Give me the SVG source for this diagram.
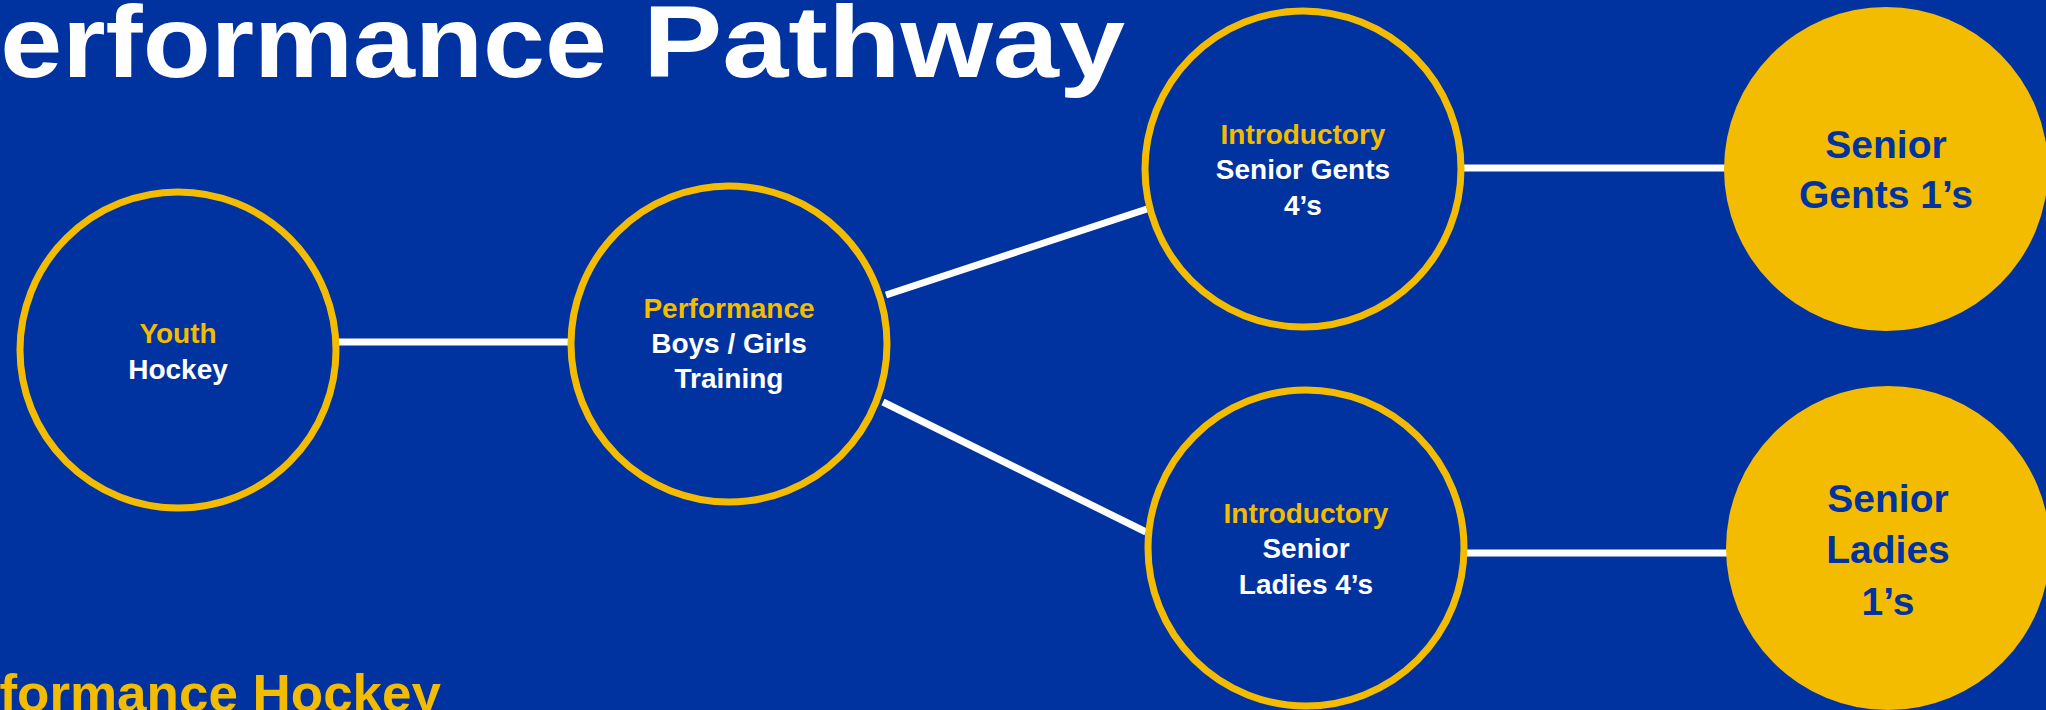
<svg xmlns="http://www.w3.org/2000/svg" width="2046" height="710" viewBox="0 0 2046 710">
<style>
.ring{fill:#0033a0;stroke:#f4bc00;stroke-width:7}
.solid{fill:#f4bc00}
.conn{stroke:#ffffff;stroke-width:7;fill:none}
.t{font-family:"Liberation Sans",Arial,sans-serif;font-weight:bold;text-anchor:middle}
.s{font-size:28px}
.b{font-size:39px;fill:#0033a0}
.y{fill:#f4bc00}
.w{fill:#ffffff}
</style>
<rect width="2046" height="710" fill="#0033a0"/>
<text font-family="'Liberation Sans',Arial,sans-serif" font-weight="bold" font-size="102" fill="#ffffff"><tspan x="-74" y="77" textLength="681" lengthAdjust="spacingAndGlyphs">Performance</tspan><tspan x="643" y="77" textLength="482" lengthAdjust="spacingAndGlyphs">Pathway</tspan></text>
<text x="-86" y="711" textLength="527" lengthAdjust="spacingAndGlyphs" font-family="'Liberation Sans',Arial,sans-serif" font-weight="bold" font-size="52" fill="#f4bc00">Performance Hockey</text>
<g id="connectors">
<line class="conn" x1="339" y1="342" x2="571" y2="342"/>
<line class="conn" x1="886" y1="295" x2="1147" y2="209"/>
<line class="conn" x1="883" y1="402" x2="1146" y2="532"/>
<line class="conn" x1="1464" y1="168" x2="1725" y2="168"/>
<line class="conn" x1="1467" y1="553" x2="1727" y2="553"/>
</g>
<g id="youth">
<circle class="ring" cx="178" cy="350" r="158"/>
<text class="t s y" x="178" y="343">Youth</text>
<text class="t s w" x="178" y="379">Hockey</text>
</g>
<g id="performance">
<circle class="ring" cx="729" cy="344" r="158"/>
<text class="t s y" x="729" y="318">Performance</text>
<text class="t s w" x="729" y="353">Boys / Girls</text>
<text class="t s w" x="729" y="388">Training</text>
</g>
<g id="intro-gents">
<circle class="ring" cx="1303" cy="169" r="158"/>
<text class="t s y" x="1303" y="144">Introductory</text>
<text class="t s w" x="1303" y="179">Senior Gents</text>
<text class="t s w" x="1303" y="215">4’s</text>
</g>
<g id="senior-gents">
<circle class="solid" cx="1886" cy="169" r="162"/>
<text class="t b" x="1886" y="158">Senior</text>
<text class="t b" x="1886" y="208">Gents 1’s</text>
</g>
<g id="intro-ladies">
<circle class="ring" cx="1306" cy="548" r="158"/>
<text class="t s y" x="1306" y="523">Introductory</text>
<text class="t s w" x="1306" y="558">Senior</text>
<text class="t s w" x="1306" y="594">Ladies 4’s</text>
</g>
<g id="senior-ladies">
<circle class="solid" cx="1888" cy="548" r="162"/>
<text class="t b" x="1888" y="512">Senior</text>
<text class="t b" x="1888" y="563">Ladies</text>
<text class="t b" x="1888" y="615">1’s</text>
</g>
</svg>
